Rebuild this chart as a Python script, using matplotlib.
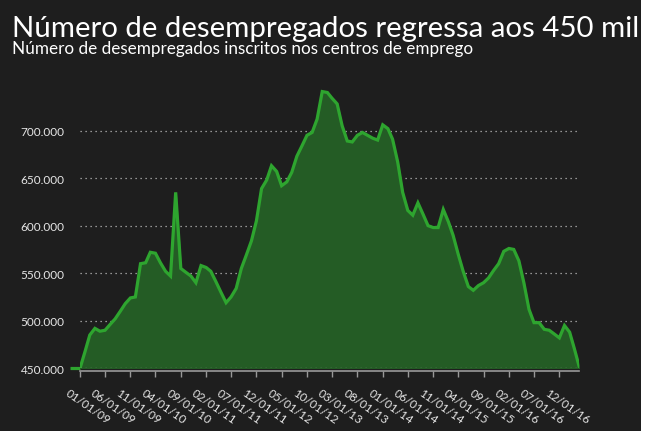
import matplotlib
matplotlib.use("Agg")
import matplotlib.pyplot as plt
import matplotlib.dates as mdates
import matplotlib.transforms as mtransforms
from matplotlib.patches import Rectangle
from matplotlib.ticker import FuncFormatter
import pandas as pd

# registered unemployed, thousands, monthly from Jan 2009
unemployed = [
    450, 468, 485, 492, 489, 490, 496, 502, 510, 518,
    524, 525, 560, 561, 572, 571, 561, 552, 547, 635,
    555, 551, 547, 540, 558, 556, 552, 541, 530, 519,
    525, 534, 555, 569, 584, 605, 639, 648, 663, 657,
    642, 646, 656, 673, 684, 695, 698, 712, 741, 740,
    734, 728, 705, 689, 688, 695, 698, 695, 692, 690,
    706, 702, 691, 667, 635, 616, 611, 624, 612, 600,
    598, 598, 617, 604, 590, 570, 552, 536, 532, 537,
    540, 545, 553, 560, 573, 576, 575, 563, 540, 512,
    498, 498, 491, 490, 486, 482, 495, 488, 471, 451,
]
months = pd.date_range("2009-01-01", periods=len(unemployed), freq="MS")
tick_months = months[::5][:20]
y_ticks = [450, 500, 550, 600, 650, 700]

title = "Número de desempregados regressa aos 450 mil"
subtitle = "Número de desempregados inscritos nos centros de emprego"

BG = "#1e1e1e"
LINE = "#2ea52f"
FILL = "#245c25"
W, H = 647, 439

plt.rcParams["font.family"] = ["Lato", "DejaVu Sans"]

fig = plt.figure(figsize=(W / 100, H / 100), dpi=100)
fig.patch.set_facecolor("white")
fig.patches.append(Rectangle((0, 1 - 432 / H), 641 / W, 432 / H,
                             transform=fig.transFigure, facecolor=BG,
                             edgecolor="none", zorder=-5))

ax = fig.add_axes([80 / W, 1 - 369.3 / H, (579.4 - 80) / W, (369.3 - 84) / H])
ax.set_facecolor("none")
ax.set_zorder(2)

ax.fill_between(months, unemployed, 450, color=FILL, zorder=2)
ax.plot(months, unemployed, color=LINE, lw=2.3, zorder=3,
        solid_joinstyle="miter")

ax.set_xlim(months[0], months[-1])
ax.set_ylim(450, 750)

for v in y_ticks:
    ax.axhline(v, color="#bbbbbb", lw=0.9, ls=(0, (1, 3)), zorder=4 if v == 450 else 1)

ax.set_yticks(y_ticks)
ax.yaxis.set_major_formatter(FuncFormatter(lambda v, p: f"{v:.0f}.000"))
ax.tick_params(axis="y", length=0, pad=11, labelsize=8.5, labelcolor="#e6e6e6")
# the green stub at the baseline, left of the axis
ax.yaxis.remove_overlapping_locs = False
ax.set_yticks([y_ticks[0]], minor=True)
ax.tick_params(axis="y", which="minor", length=7, width=2.3, color=LINE,
               labelleft=False)

ax.set_xticks(tick_months)
ax.xaxis.set_major_formatter(mdates.DateFormatter("%m/%d/%y"))
ax.tick_params(axis="x", length=4, width=1, color="#999999", pad=7,
               labelsize=8.5, labelcolor="#e6e6e6", direction="out")

for side in ("top", "right", "left"):
    ax.spines[side].set_visible(False)
ax.spines["bottom"].set_color("#999999")
ax.spines["bottom"].set_linewidth(1.2)
ax.spines["bottom"].set_position(("outward", 2))

# labels start a little left of their tick and run down to the right
offset = mtransforms.ScaledTranslation(-10 / 100, 0, fig.dpi_scale_trans)
for lab in ax.get_xticklabels():
    lab.set_rotation(-35)
    lab.set_ha("left")
    lab.set_va("top")
    lab.set_rotation_mode("anchor")
    lab.set_transform(lab.get_transform() + offset)

fig.text(12 / W, 1 - 37.5 / H, title, color="white", fontsize=21.2,
         va="baseline", ha="left")
fig.text(12 / W, 1 - 54 / H, subtitle, color="white", fontsize=12.3,
         va="baseline", ha="left")

fig.savefig("out.png", dpi=100, facecolor=fig.get_facecolor())
